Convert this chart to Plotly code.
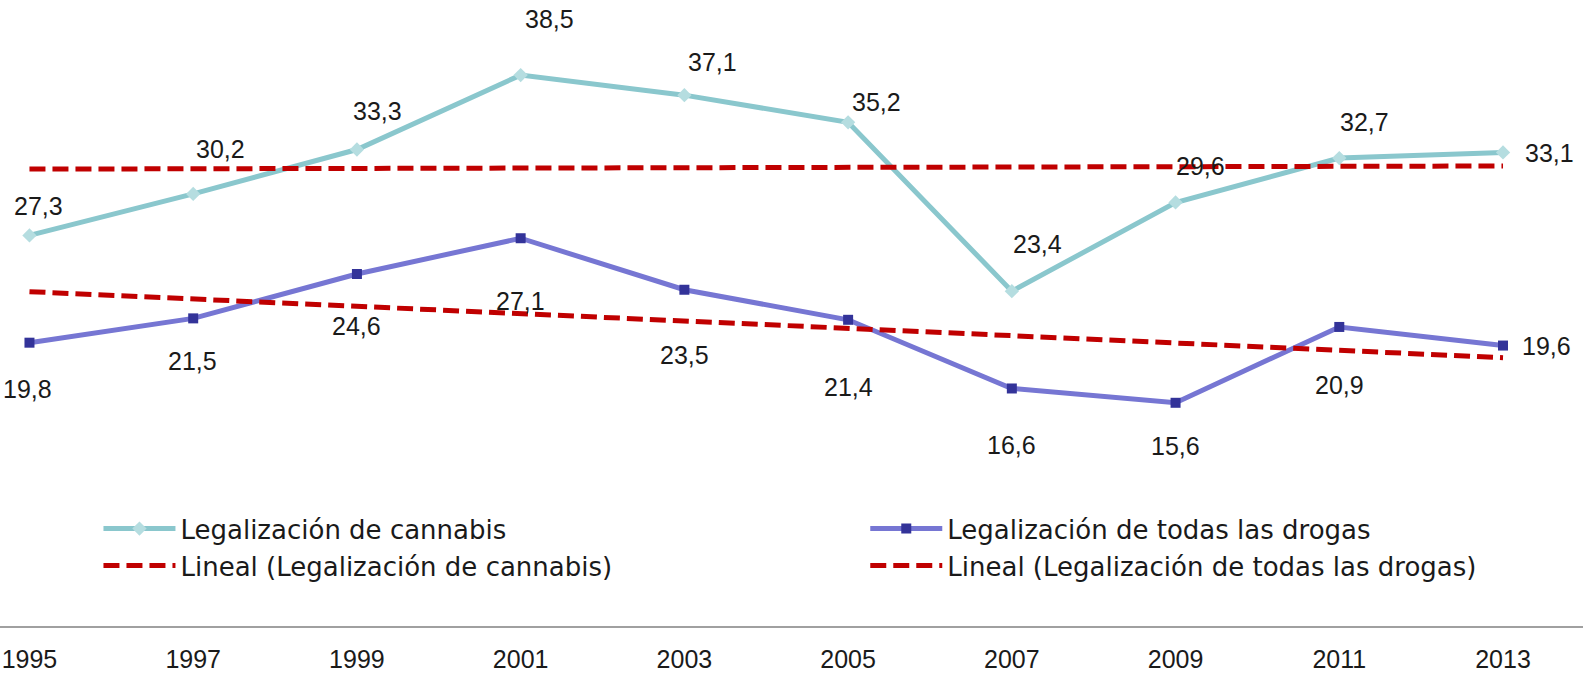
import numpy as np
import plotly.graph_objects as go

years = [1995, 1997, 1999, 2001, 2003, 2005, 2007, 2009, 2011, 2013]
cannabis = [27.3, 30.2, 33.3, 38.5, 37.1, 35.2, 23.4, 29.6, 32.7, 33.1]
drogas = [19.8, 21.5, 24.6, 27.1, 23.5, 21.4, 16.6, 15.6, 20.9, 19.6]

name_c = "Legalización de cannabis"
name_d = "Legalización de todas las drogas"
name_tc = "Lineal (Legalización de cannabis)"
name_td = "Lineal (Legalización de todas las drogas)"

# label offsets in pixels (dx right, dy down) - style only
off_c = [(9, -29), (27, -45), (21, -39), (29, -56), (28, -33), (28, -20), (26, -47), (25, -36), (25, -36), (46, 1)]
off_d = [(-2, 46), (-1, 43), (0, 52), (0, 63), (0, 65), (0, 67), (0, 57), (0, 43), (0, 58), (43, 0)]

def trend(vals):
    idx = np.arange(1, len(vals) + 1)
    m, b = np.polyfit(idx, vals, 1)
    return list(m * idx + b)

NUM_FONT = dict(family="Liberation Sans, Arial, sans-serif", size=25, color="#1a1a1a")
LEG_FONT = dict(family="DejaVu Sans, sans-serif", size=26, color="#1a1a1a")
DASH = "16px,7px"

fig = go.Figure()
fig.add_trace(go.Scatter(
    x=years, y=cannabis, name=name_c, mode="lines+markers",
    legend="legend", legendgroup="c",
    line=dict(color="#8AC7CD", width=5),
    marker=dict(symbol="diamond", size=11, color="#B5DDE0"),
))
fig.add_trace(go.Scatter(
    x=years, y=drogas, name=name_d, mode="lines+markers",
    legend="legend2", legendgroup="d",
    line=dict(color="#7676D3", width=5),
    marker=dict(symbol="square", size=10, color="#333399"),
))
fig.add_trace(go.Scatter(
    x=years, y=trend(cannabis), name=name_tc, mode="lines",
    legend="legend", legendgroup="tc",
    line=dict(color="#C00000", width=5, dash=DASH),
))
fig.add_trace(go.Scatter(
    x=years, y=trend(drogas), name=name_td, mode="lines",
    legend="legend2", legendgroup="td",
    line=dict(color="#C00000", width=5, dash=DASH),
))

def fmt(v):
    return f"{v:.1f}".replace(".", ",")

for vals, offs in ((cannabis, off_c), (drogas, off_d)):
    for x, v, (dx, dy) in zip(years, vals, offs):
        fig.add_annotation(x=x, y=v, text=fmt(v), showarrow=False,
                           xshift=dx, yshift=-dy, font=NUM_FONT)

leg_common = dict(
    orientation="v", xanchor="left", yanchor="top", y=0.1930,
    font=LEG_FONT, itemwidth=72, tracegroupgap=6,
    bgcolor="rgba(0,0,0,0)", traceorder="normal",
)

fig.update_layout(
    width=1587, height=674,
    margin=dict(l=0, r=4, t=0, b=48),
    paper_bgcolor="white", plot_bgcolor="white",
    showlegend=True,
    legend=dict(x=0.0622, **leg_common),
    legend2=dict(x=0.5466, **leg_common),
    xaxis=dict(
        range=[1994.640, 2013.977], tickvals=years, ticktext=[str(y) for y in years],
        showgrid=False, zeroline=False, showline=True, linecolor="#A0A0A0", linewidth=2,
        ticks="", tickfont=NUM_FONT, ticklabelstandoff=10, ticklabeloverflow="allow",
    ),
    yaxis=dict(range=[0, 43.75], visible=False, showgrid=False, zeroline=False),
)

fig.write_html("out.html", config={"displayModeBar": False},
               post_script="document.body.style.margin='0';document.body.style.overflow='hidden';")
